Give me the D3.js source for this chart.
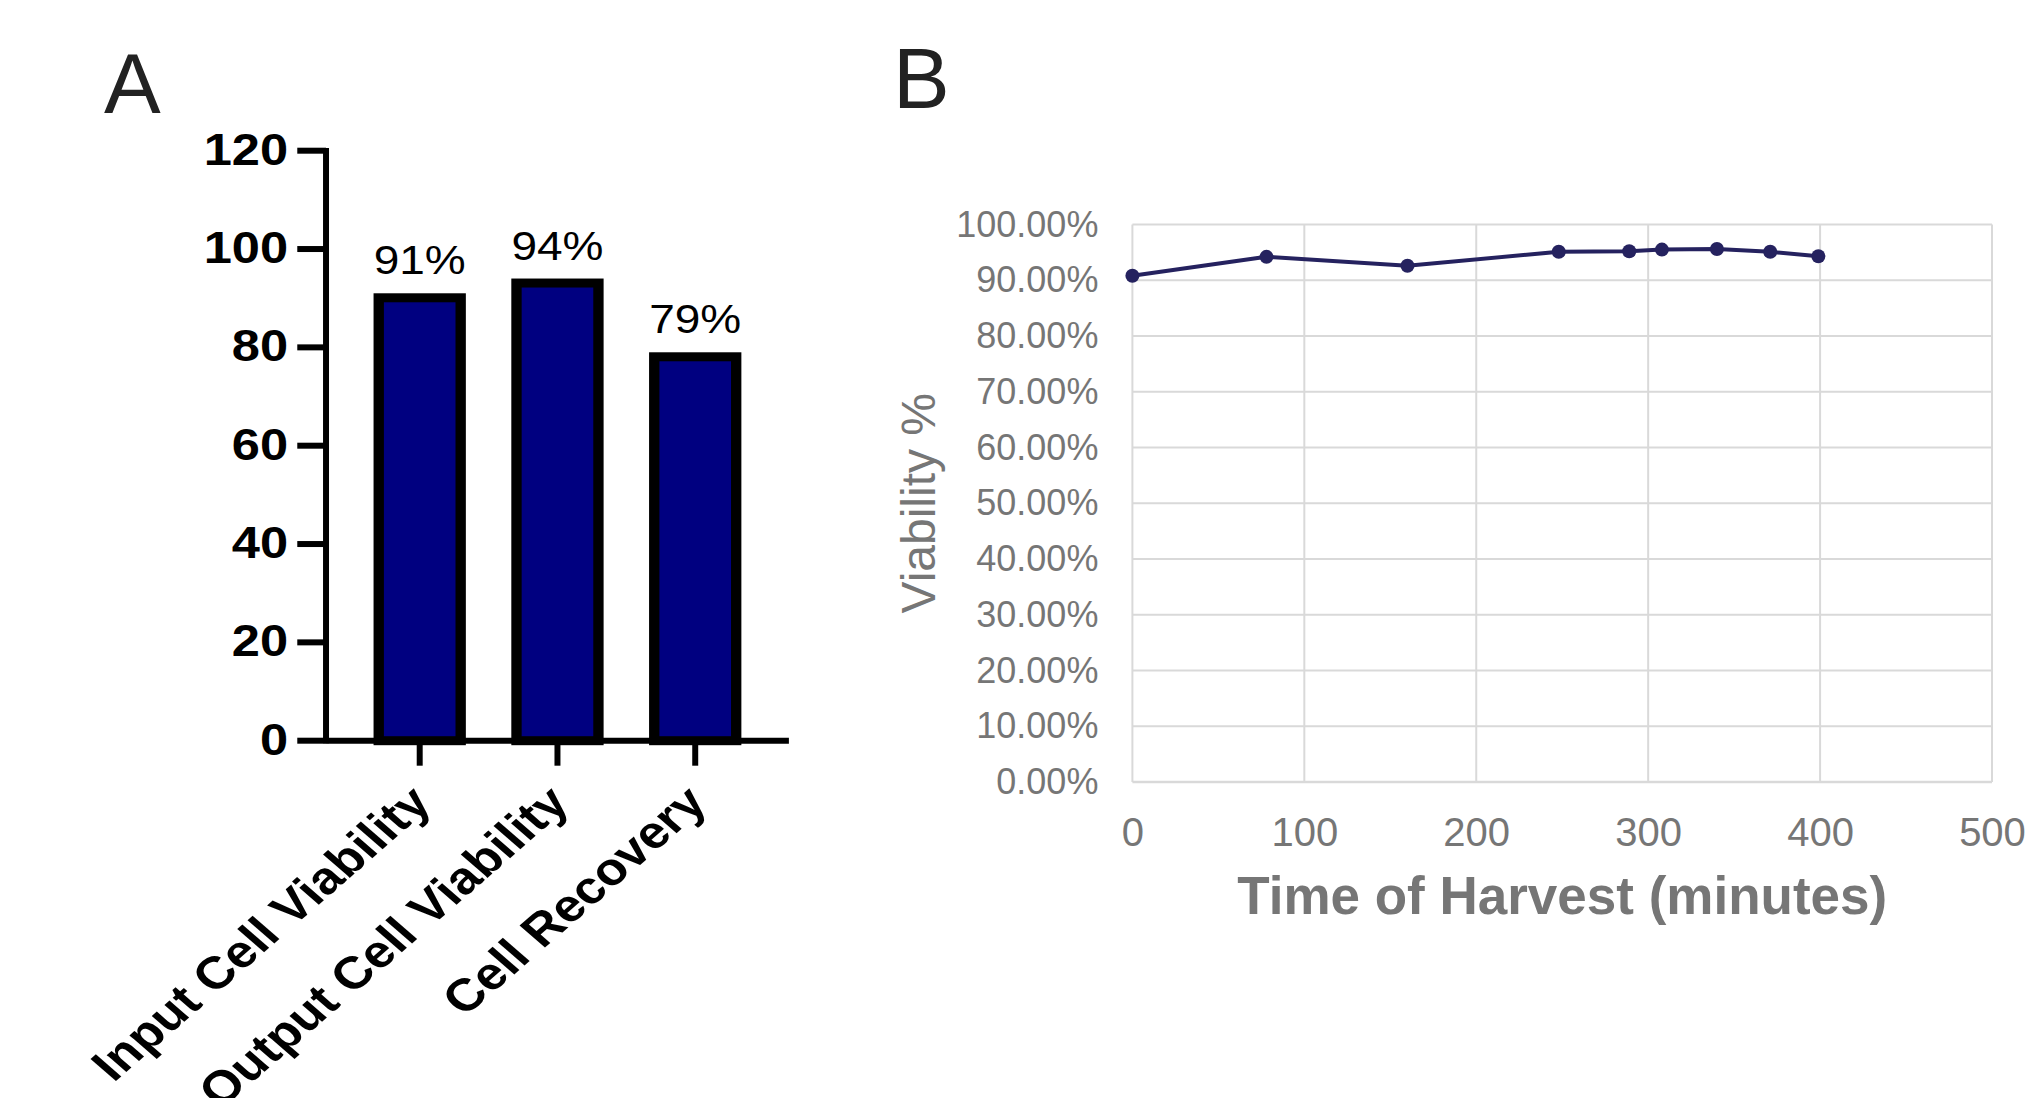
<!DOCTYPE html>
<html>
<head>
<meta charset="utf-8">
<script src="https://cdn.jsdelivr.net/npm/d3@7"></script>
<style>
  body { margin: 0; background: #fff; }
  svg { display: block; font-family: "Liberation Sans", Arial, sans-serif; }
</style>
</head>
<body>
<svg width="2027" height="1098"></svg>
<script>
// Panel A data
const categories = ["Input Cell Viability", "Output Cell Viability", "Cell Recovery"];
const percents = [91, 94, 79];
const yTicksA = [0, 20, 40, 60, 80, 100, 120];

// Panel B data
const harvestMinutes = [0, 78, 160, 248, 289, 308, 340, 371, 399];
const viability = [0.908, 0.942, 0.926, 0.951, 0.952, 0.955, 0.956, 0.951, 0.943];
const xTicksB = [0, 100, 200, 300, 400, 500];
const yTicksB = [0, 0.1, 0.2, 0.3, 0.4, 0.5, 0.6, 0.7, 0.8, 0.9, 1.0];

const svg = d3.select("svg");

// ---------- Panel A (the original figure is stretched horizontally) ----------
const stretch = 1.15;
const gA = svg.append("g").attr("transform", `scale(${stretch},1)`);

const xA = d3.scaleBand()
    .domain(categories)
    .range([283.5, 686])
    .paddingInner(0.33)
    .paddingOuter(0.345);
const yA = d3.scaleLinear().domain([0, 120]).range([740.7, 150.7]);

// bars, border drawn inside the value
gA.selectAll(".bar")
    .data(percents)
    .join("rect")
    .attr("class", "bar")
    .attr("x", (d, i) => xA(categories[i]) + 4.5)
    .attr("y", d => yA(d) + 4.5)
    .attr("width", xA.bandwidth() - 9)
    .attr("height", d => yA(0) - yA(d) - 4.5)
    .attr("fill", "#000080")
    .attr("stroke", "#000")
    .attr("stroke-width", 9);

// value labels
gA.selectAll(".val")
    .data(percents)
    .join("text")
    .attr("class", "val")
    .attr("x", (d, i) => xA(categories[i]) + xA.bandwidth() / 2)
    .attr("y", d => yA(d) - 19)
    .attr("text-anchor", "middle")
    .attr("font-size", 40)
    .attr("fill", "#000")
    .text(d => d + "%");

// y axis
const yAxisA = gA.append("g")
    .attr("transform", "translate(283.5,0)")
    .call(d3.axisLeft(yA).tickValues(yTicksA).tickSize(25).tickSizeOuter(0).tickPadding(8).offset(0));
yAxisA.select(".domain").attr("stroke-width", 5.2).attr("stroke-linecap", "square");
yAxisA.selectAll(".tick line").attr("stroke-width", 6);
yAxisA.selectAll(".tick text")
    .attr("font-size", 44)
    .attr("font-weight", "bold")
    .attr("font-family", "'Liberation Sans', Arial, sans-serif")
    .attr("fill", "#000");

// x axis
const xAxisA = gA.append("g")
    .attr("transform", `translate(0,${yA(0)})`)
    .call(d3.axisBottom(xA).tickSize(25).tickSizeOuter(0).offset(0).tickFormat(""));
xAxisA.select(".domain").attr("stroke-width", 6);
xAxisA.selectAll(".tick line").attr("stroke-width", 5.2);

// rotated category labels
gA.selectAll(".cat")
    .data(categories)
    .join("text")
    .attr("class", "cat")
    .attr("transform", d => `translate(${xA(d) + xA.bandwidth() / 2 + 12},805) rotate(-45)`)
    .attr("text-anchor", "end")
    .attr("font-size", 45.5)
    .attr("font-weight", "bold")
    .attr("fill", "#000")
    .text(d => d);

svg.append("text")
    .attr("x", 104)
    .attr("y", 112.6)
    .attr("font-size", 85)
    .attr("fill", "#222")
    .text("A");

// ---------- Panel B ----------
const xB = d3.scaleLinear().domain([0, 500]).range([1132.4, 1992]);
const yB = d3.scaleLinear().domain([0, 1]).range([782, 224.5]);

// gridlines
svg.append("g")
    .selectAll("line")
    .data(yTicksB)
    .join("line")
    .attr("x1", xB(0)).attr("x2", xB(500))
    .attr("y1", d => yB(d)).attr("y2", d => yB(d))
    .attr("stroke", "#d9d9d9")
    .attr("stroke-width", d => d === 0 ? 2.5 : 2);

svg.append("g")
    .selectAll("line")
    .data(xTicksB)
    .join("line")
    .attr("x1", d => xB(d)).attr("x2", d => xB(d))
    .attr("y1", yB(0)).attr("y2", yB(1))
    .attr("stroke", "#d9d9d9")
    .attr("stroke-width", 2);

// tick labels
const yAxisB = svg.append("g")
    .attr("transform", `translate(${xB(0)},0)`)
    .call(d3.axisLeft(yB).tickValues(yTicksB).tickSize(0).tickPadding(34).tickFormat(d3.format(".2%")));
yAxisB.select(".domain").remove();
yAxisB.selectAll("text")
    .attr("font-size", 36)
    .attr("font-family", "'Liberation Sans', Arial, sans-serif")
    .attr("fill", "#767676");

const xAxisB = svg.append("g")
    .attr("transform", `translate(0,${yB(0)})`)
    .call(d3.axisBottom(xB).tickValues(xTicksB).tickSize(0).tickPadding(36).tickFormat(d3.format("d")));
xAxisB.select(".domain").remove();
xAxisB.selectAll("text")
    .attr("font-size", 40)
    .attr("font-family", "'Liberation Sans', Arial, sans-serif")
    .attr("fill", "#767676");

// series
const line = d3.line()
    .x((d, i) => xB(harvestMinutes[i]))
    .y(d => yB(d));

svg.append("path")
    .datum(viability)
    .attr("d", line)
    .attr("fill", "none")
    .attr("stroke", "#25225f")
    .attr("stroke-width", 4)
    .attr("stroke-linejoin", "round");

svg.append("g")
    .selectAll("circle")
    .data(viability)
    .join("circle")
    .attr("cx", (d, i) => xB(harvestMinutes[i]))
    .attr("cy", d => yB(d))
    .attr("r", 7)
    .attr("fill", "#25225f");

// axis titles
svg.append("text")
    .attr("x", (xB(0) + xB(500)) / 2)
    .attr("y", 914)
    .attr("text-anchor", "middle")
    .attr("font-size", 53)
    .attr("font-weight", "bold")
    .attr("fill", "#767676")
    .text("Time of Harvest (minutes)");

svg.append("text")
    .attr("transform", `translate(935,${(yB(0) + yB(1)) / 2}) rotate(-90)`)
    .attr("text-anchor", "middle")
    .attr("font-size", 48)
    .attr("fill", "#767676")
    .text("Viability %");

svg.append("text")
    .attr("x", 893)
    .attr("y", 108.3)
    .attr("font-size", 85)
    .attr("fill", "#222")
    .text("B");
</script>
</body>
</html>
